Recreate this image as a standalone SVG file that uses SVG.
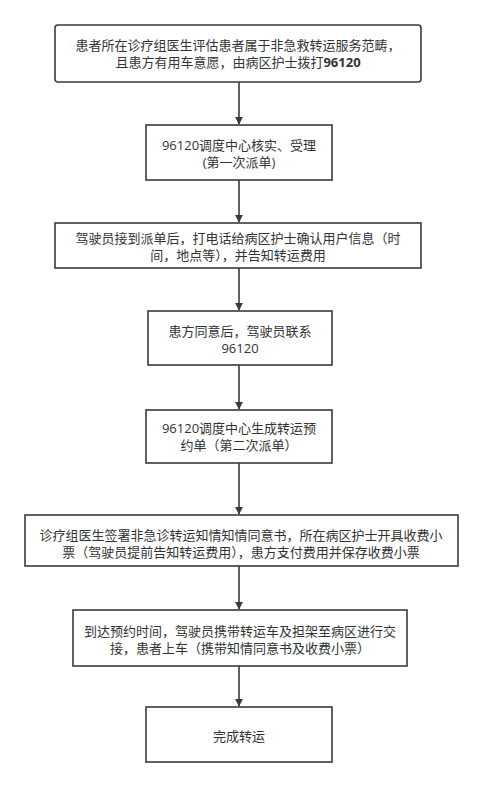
<svg xmlns="http://www.w3.org/2000/svg" width="477" height="787" viewBox="0 0 477 787">
<style>
.box{fill:#fff;stroke:#3a3a3a;stroke-width:1.6}
.t{font-family:"Open Sans","Noto Sans CJK SC",sans-serif;font-size:13px;fill:#333;text-anchor:middle}
.c{stroke:#3a3a3a;stroke-width:1.6;fill:none;marker-end:url(#ah)}
</style>
<defs>
<marker id="ah" viewBox="0 0 10 10" refX="9" refY="5" markerWidth="8" markerHeight="8" markerUnits="userSpaceOnUse" orient="auto">
<path d="M0,0 L10,5 L0,10 Z" fill="#3a3a3a"/>
</marker>
</defs>
<rect width="477" height="787" fill="#fff"/>
<g id="connectors">
<line class="c" x1="239" y1="82" x2="239" y2="124"/>
<line class="c" x1="239" y1="180" x2="239" y2="222"/>
<line class="c" x1="239" y1="268" x2="239" y2="310"/>
<line class="c" x1="239" y1="365" x2="239" y2="409"/>
<line class="c" x1="239" y1="463" x2="239" y2="514"/>
<line class="c" x1="239" y1="566" x2="239" y2="609"/>
<line class="c" x1="239" y1="666" x2="239" y2="706"/>
</g>
<g id="n1">
<rect class="box" x="55" y="25" width="366" height="57" rx="3"/>
<text class="t" x="238" y="50">患者所在诊疗组医生评估患者属于非急救转运服务范畴，</text>
<text class="t" x="238" y="67">且患方有用车意愿，由病区护士拨打<tspan font-weight="bold">96120</tspan></text>
</g>
<g id="n2">
<rect class="box" x="146" y="125" width="186" height="55"/>
<text class="t" x="239" y="150">96120调度中心核实、受理</text>
<text class="t" x="239" y="167">(第一次派单)</text>
</g>
<g id="n3">
<rect class="box" x="55" y="223" width="366" height="45"/>
<text class="t" x="238" y="243">驾驶员接到派单后，打电话给病区护士确认用户信息（时</text>
<text class="t" x="238" y="260">间，地点等），并告知转运费用</text>
</g>
<g id="n4">
<rect class="box" x="148" y="311" width="184" height="54"/>
<text class="t" x="240" y="336">患方同意后，驾驶员联系</text>
<text class="t" x="240" y="353">96120</text>
</g>
<g id="n5">
<rect class="box" x="146" y="410" width="186" height="53"/>
<text class="t" x="239" y="433">96120调度中心生成转运预</text>
<text class="t" x="239" y="450">约单（第二次派单）</text>
</g>
<g id="n6">
<rect class="box" x="25" y="515" width="433" height="51"/>
<text class="t" x="241" y="540">诊疗组医生签署非急诊转运知情知情同意书，所在病区护士开具收费小</text>
<text class="t" x="241" y="557">票（驾驶员提前告知转运费用），患方支付费用并保存收费小票</text>
</g>
<g id="n7">
<rect class="box" x="73" y="610" width="334" height="56"/>
<text class="t" x="240" y="636">到达预约时间，驾驶员携带转运车及担架至病区进行交</text>
<text class="t" x="240" y="653">接，患者上车（携带知情同意书及收费小票）</text>
</g>
<g id="n8">
<rect class="box" x="146" y="707" width="186" height="55"/>
<text class="t" x="239" y="741">完成转运</text>
</g>
</svg>
